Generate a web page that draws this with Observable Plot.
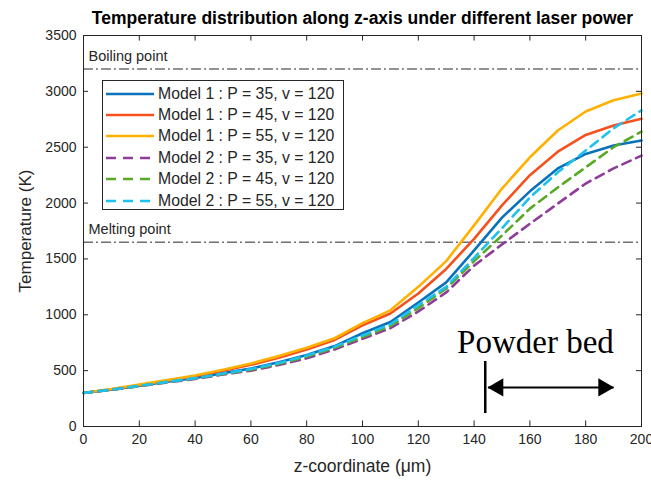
<!DOCTYPE html>
<html><head><meta charset="utf-8">
<script src="https://cdn.jsdelivr.net/npm/d3@7"></script>
<script src="https://cdn.jsdelivr.net/npm/@observablehq/plot@0.6"></script>
<style>
body{margin:0;background:#fff;}
#wrap{position:relative;width:651px;height:481px;font-family:"Liberation Sans",Arial,sans-serif;}
#legend{position:absolute;left:102px;top:80px;width:242px;height:130px;border:1px solid #262626;background:#fff;box-sizing:border-box;padding-top:2px;}
#legend .row{display:flex;align-items:center;height:21.4px;font-size:15.8px;color:#262626;white-space:nowrap;}
#legend svg{margin-left:3px;margin-right:4px;}
</style></head><body><div id="wrap"></div>
<script>
// ---- data ----
const zCoord = [0,10,20,30,40,50,60,70,80,90,100,110,120,130,140,150,160,170,180,190,200];
const model1P35 = [300,330,365,402,435,478,519,575,640,720,835,935,1110,1290,1576,1870,2105,2310,2440,2515,2560];
const model1P45 = [300,333,370,410,450,500,552,615,690,775,905,1012,1190,1410,1680,1980,2250,2460,2610,2695,2755];
const model1P55 = [300,335,375,415,457,508,564,630,705,790,925,1040,1250,1480,1800,2130,2410,2650,2820,2920,2980];
const model2P35 = [300,328,360,395,425,465,500,550,610,690,785,880,1030,1200,1440,1630,1815,1995,2175,2310,2425];
const model2P45 = [300,329,362,398,430,470,508,560,625,705,800,900,1060,1235,1480,1710,1950,2140,2320,2500,2640];
const model2P55 = [300,330,364,400,433,474,514,568,635,715,815,915,1085,1250,1510,1775,2050,2275,2470,2670,2830];
const seriesLabels = ["Model 1 : P = 35, v = 120","Model 1 : P = 45, v = 120","Model 1 : P = 55, v = 120","Model 2 : P = 35, v = 120","Model 2 : P = 45, v = 120","Model 2 : P = 55, v = 120"];
const seriesValues = [model1P35, model1P45, model1P55, model2P35, model2P45, model2P55];
const seriesColors = ["#0a72ba","#f4511e","#ffb000","#8e3c98","#5ba829","#1ec0ee"];
const seriesDashed = [false,false,false,true,true,true];
const xTicks = [0,20,40,60,80,100,120,140,160,180,200];
const yTicks = [0,500,1000,1500,2000,2500,3000,3500];
const refLevels = [3200, 1650];
const refLabels = ["Boiling point","Melting point"];
const powderBedStart = 144;   // z (µm) of powder bed boundary
const powderBedArrow = [145, 190];
const powderBedArrowT = 350;
const powderBedMarker = [116, 582];
const powderBedLabel = {z: 162, T: 756, text: "Powder bed"};
const titleText = "Temperature distribution along z-axis under different laser power";
const xLabel = "z-coordinate (μm)";
const yLabel = "Temperature (K)";

// ---- build ----
const ink = "#262626";
const lineMarks = seriesValues.map((vals, i) => {
  const rows = zCoord.map((z, j) => ({z, T: vals[j]}));
  return Plot.line(rows, {x: "z", y: "T", stroke: seriesColors[i], strokeWidth: 2.6,
    strokeDasharray: seriesDashed[i] ? "9,6" : null, strokeLinejoin: "round"});
});
const refRows = refLevels.map((v, i) => ({v, label: refLabels[i]}));

const chart = Plot.plot({
  width: 651, height: 481,
  marginLeft: 83, marginRight: 10, marginTop: 35, marginBottom: 55,
  x: {domain: [0, 200], label: null},
  y: {domain: [0, 3500], label: null},
  style: {fontFamily: "'Liberation Sans', Arial, sans-serif", fontSize: "14px", color: ink, background: "#fff"},
  marks: [
    Plot.ruleY(refRows, {y: "v", stroke: ink, strokeWidth: 1, strokeDasharray: "10,3,2,3"}),
    Plot.text(refRows, {x: 0, y: "v", text: "label", textAnchor: "start", dx: 5, dy: -13, fontSize: 14.5, fill: ink}),
    ...lineMarks,
    Plot.frame({stroke: ink, strokeWidth: 1}),
    Plot.ruleX(xTicks, {x: d => d, y1: 0, y2: 50, stroke: ink}),
    Plot.ruleX(xTicks, {x: d => d, y1: 3450, y2: 3500, stroke: ink}),
    Plot.ruleY(yTicks, {y: d => d, x1: 0, x2: 1.8, stroke: ink}),
    Plot.ruleY(yTicks, {y: d => d, x1: 198.2, x2: 200, stroke: ink}),
    Plot.axisX({ticks: xTicks, tickSize: 0, tickPadding: 8, label: null, fill: ink, tickFormat: d3.format("d")}),
    Plot.axisY({ticks: yTicks, tickSize: 0, tickPadding: 7, label: null, fill: ink, tickFormat: d3.format("d")}),
    Plot.text([xLabel], {frameAnchor: "bottom", lineAnchor: "middle", dy: 40, fontSize: 17.5, fill: ink}),
    Plot.text([yLabel], {frameAnchor: "left", textAnchor: "middle", lineAnchor: "middle", rotate: -90, dx: -58, fontSize: 17, fill: ink}),
    Plot.text([titleText], {frameAnchor: "top", lineAnchor: "middle", dy: -17, fontSize: 17.5, fontWeight: "bold", fill: "#000"}),
    // powder bed annotation
    Plot.ruleX([powderBedStart], {x: d => d, y1: powderBedMarker[0], y2: powderBedMarker[1], stroke: "#000", strokeWidth: 2.5}),
    Plot.link([powderBedArrow], {x1: d => d[0], x2: d => d[1], y1: powderBedArrowT, y2: powderBedArrowT, stroke: "#000", strokeWidth: 2}),
    Plot.dot([powderBedArrow[0]], {x: d => d, y: powderBedArrowT, symbol: "triangle", r: 6.8, rotate: -90, dx: 10, fill: "#000", stroke: null}),
    Plot.dot([powderBedArrow[1]], {x: d => d, y: powderBedArrowT, symbol: "triangle", r: 6.8, rotate: 90, dx: -10, fill: "#000", stroke: null}),
    Plot.text([powderBedLabel], {x: "z", y: "T", text: "text", fontFamily: "'Liberation Serif', 'Times New Roman', serif", fontSize: 33, fill: "#000"})
  ]
});
const wrap = document.getElementById("wrap");
wrap.appendChild(chart);

// legend
const leg = document.createElement("div");
leg.id = "legend";
seriesLabels.forEach((lab, i) => {
  const row = document.createElement("div");
  row.className = "row";
  const ns = "http://www.w3.org/2000/svg";
  const s = document.createElementNS(ns, "svg");
  s.setAttribute("width", 48); s.setAttribute("height", 10);
  const l = document.createElementNS(ns, "line");
  l.setAttribute("x1", 0); l.setAttribute("x2", 48); l.setAttribute("y1", 5); l.setAttribute("y2", 5);
  l.setAttribute("stroke", seriesColors[i]); l.setAttribute("stroke-width", 2.6);
  if (seriesDashed[i]) l.setAttribute("stroke-dasharray", "10,7");
  s.appendChild(l);
  row.appendChild(s);
  const t = document.createElement("span");
  t.textContent = lab;
  row.appendChild(t);
  leg.appendChild(row);
});
wrap.appendChild(leg);
</script></body></html>
